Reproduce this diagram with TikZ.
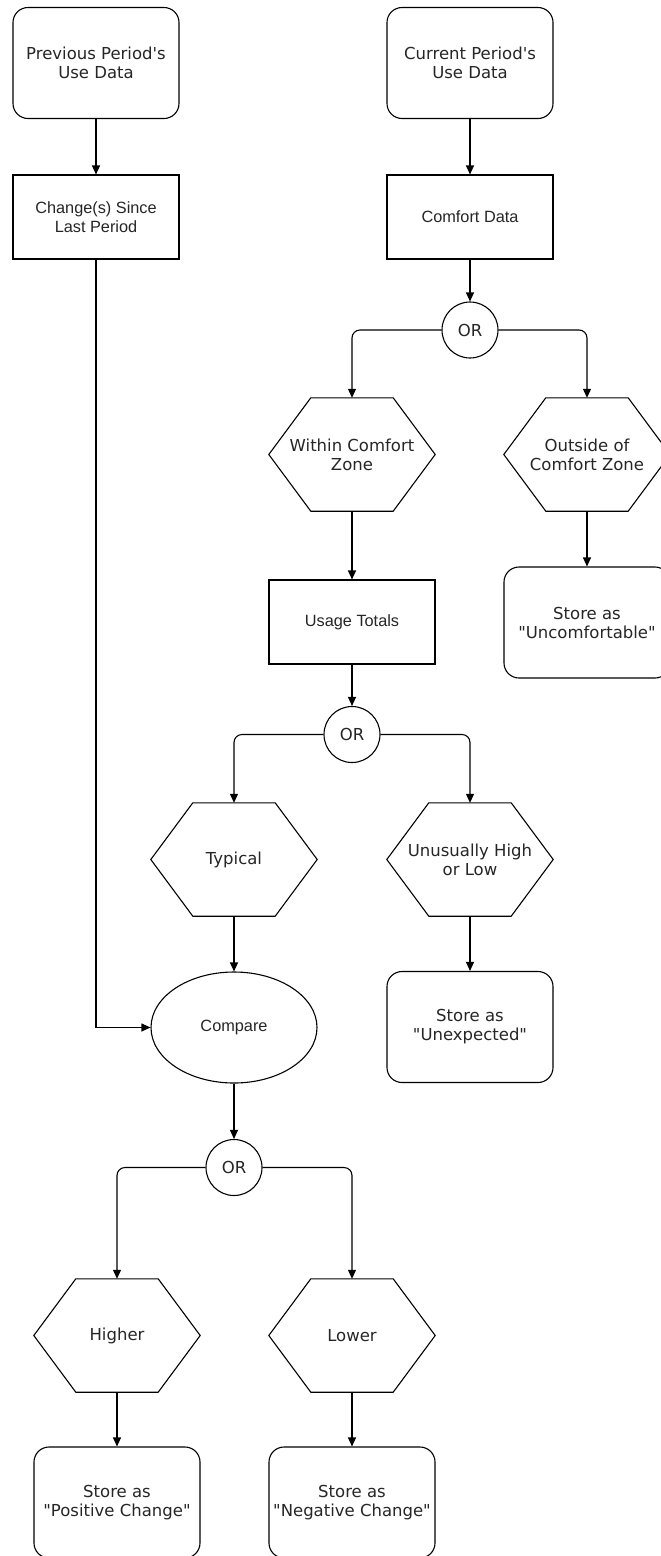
\documentclass[tikz,border=0pt]{standalone}
\usepackage{fontspec}
\newfontfamily\hvfont{Liberation Sans}
\newfontfamily\vdfont{DejaVu Sans}
\usetikzlibrary{arrows.meta,shapes.geometric,calc}
\newcommand\hexdraw[1]{\draw[hexline] (#1.west) -- ($(#1.north west)+(42,0)$) -- ($(#1.north east)+(-42,0)$) -- (#1.east) -- ($(#1.south east)+(-42,0)$) -- ($(#1.south west)+(42,0)$) -- cycle;}
\begin{document}
\begin{tikzpicture}[x=1pt,y=-1pt,
  base/.style={draw=black, line width=1.1pt, align=center, inner sep=0pt, text=black!85},
  hvtext/.style={font=\hvfont\fontsize{16.3}{19}\selectfont},
  vdtext/.style={font=\vdfont\fontsize{16.5}{19}\selectfont},
  rbox/.style={base, rectangle, rounded corners=15pt, minimum width=166pt, minimum height=111pt},
  sbox/.style={base, rectangle, minimum width=166pt, minimum height=84pt, hvtext},
  hexnode/.style={align=center, inner sep=0pt, minimum width=166pt, minimum height=113pt, text=black!85, vdtext},
  orc/.style={base, circle, minimum size=56pt, vdtext},
  ell/.style={base, ellipse, minimum width=166pt, minimum height=111pt, hvtext},
  hexline/.style={line width=1.1pt, line join=miter},
  arr/.style={line width=1.1pt, -{Triangle[length=9pt,width=8pt]}},
  elb/.style={arr, rounded corners=8pt}
]
\useasboundingbox (0,0) rectangle (661,1556);
\clip (0,0) rectangle (661,1556);
\fill[white] (0,0) rectangle (661,1556);

% left column top
\node[rbox, vdtext] (prev) at (96,63) {Previous Period's\\Use Data};
\node[sbox] (chg) at (96,217) {Change(s) Since\\Last Period};

% right column top
\node[rbox, vdtext] (cur) at (470,63) {Current Period's\\Use Data};
\node[sbox] (comf) at (470,217) {Comfort Data};
\node[orc] (or1) at (470,330) {OR};

\node[hexnode] (within) at (352,454.5) {Within Comfort\\Zone};
\hexdraw{within}
\node[hexnode] (outside) at (587,454.5) {Outside of\\Comfort Zone};
\hexdraw{outside}

\node[sbox] (usage) at (352,622) {Usage Totals};
\node[rbox, vdtext] (uncomf) at (587,622.5) {Store as\\"Uncomfortable"};

\node[orc] (or2) at (352,734.5) {OR};

\node[hexnode] (typical) at (234,859.5) {Typical};
\hexdraw{typical}
\node[hexnode] (unusual) at (470,859.5) {Unusually High\\or Low};
\hexdraw{unusual}

\node[ell] (cmp) at (234,1027.5) {Compare};
\node[rbox, vdtext] (unexp) at (470,1027) {Store as\\"Unexpected"};

\node[orc] (or3) at (234,1167.5) {OR};

\node[hexnode] (higher) at (117,1335.5) {Higher};
\hexdraw{higher}
\node[hexnode] (lower) at (352,1335.5) {Lower};
\hexdraw{lower}

\node[rbox, vdtext] (pos) at (117,1502.5) {Store as\\"Positive Change"};
\node[rbox, vdtext] (neg) at (352,1502.5) {Store as\\"Negative Change"};

% connectors
\draw[arr] (prev.south) -- (chg.north);
\draw[arr] (chg.south) |- (cmp.west);
\draw[arr] (cur.south) -- (comf.north);
\draw[arr] (comf.south) -- (or1.north);
\draw[elb] (or1.west) -| (within.north);
\draw[elb] (or1.east) -| (outside.north);
\draw[arr] (within.south) -- (usage.north);
\draw[arr] (outside.south) -- (uncomf.north);
\draw[arr] (usage.south) -- (or2.north);
\draw[elb] (or2.west) -| (typical.north);
\draw[elb] (or2.east) -| (unusual.north);
\draw[arr] (typical.south) -- (cmp.north);
\draw[arr] (unusual.south) -- (unexp.north);
\draw[arr] (cmp.south) -- (or3.north);
\draw[elb] (or3.west) -| (higher.north);
\draw[elb] (or3.east) -| (lower.north);
\draw[arr] (higher.south) -- (pos.north);
\draw[arr] (lower.south) -- (neg.north);
\end{tikzpicture}
\end{document}
